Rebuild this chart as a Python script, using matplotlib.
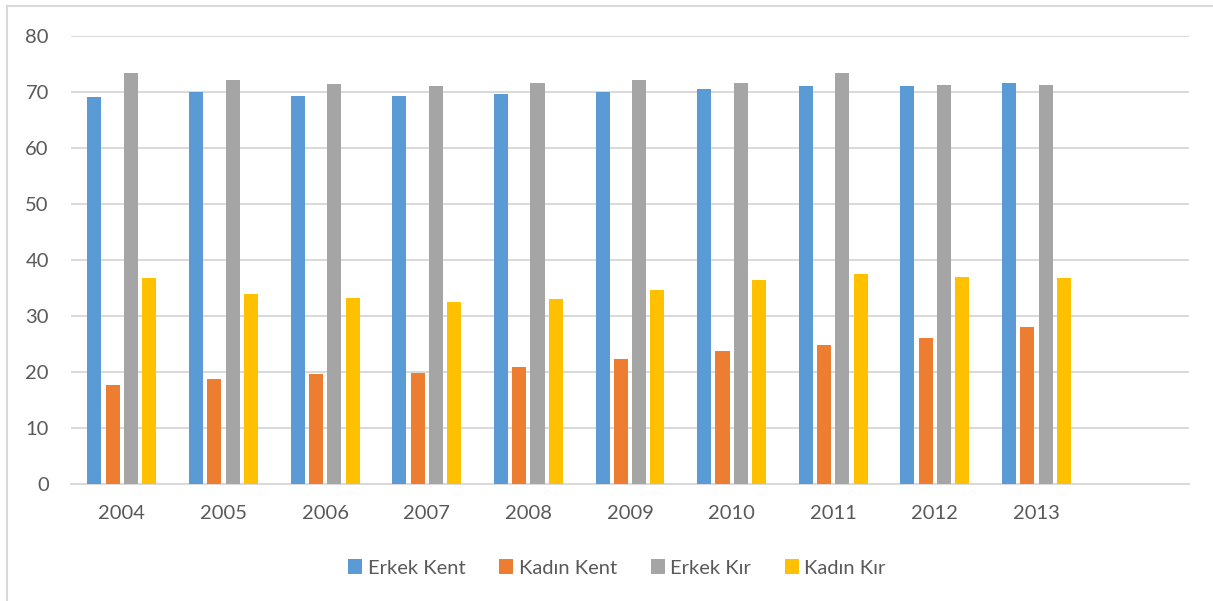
"""Employment rates by sex and urban/rural, 2004-2013 (grouped bars)."""

import matplotlib.pyplot as plt
import numpy as np
from matplotlib.lines import Line2D

years = ["2004", "2005", "2006", "2007", "2008", "2009", "2010", "2011", "2012", "2013"]
series_names = ["Erkek Kent", "Kadın Kent", "Erkek Kır", "Kadın Kır"]
erkek_kent = [69.1, 70.0, 69.3, 69.3, 69.5, 69.9, 70.4, 71.0, 71.0, 71.6]
kadin_kent = [17.7, 18.7, 19.5, 19.8, 20.8, 22.3, 23.7, 24.8, 26.1, 28.0]
erkek_kir = [73.3, 72.0, 71.3, 71.0, 71.6, 72.0, 71.6, 73.3, 71.2, 71.2]
kadin_kir = [36.7, 33.9, 33.1, 32.5, 32.9, 34.6, 36.3, 37.4, 36.9, 36.7]
yticks = [0, 10, 20, 30, 40, 50, 60, 70, 80]

colors = ["#5b9bd5", "#ed7d31", "#a5a5a5", "#ffc000"]
text_col = "#595959"
grid_col = "#d9d9d9"

plt.rcParams["font.family"] = ["Lato", "DejaVu Sans"]

W, H = 1213, 601
fig = plt.figure(figsize=(W / 100, H / 100), dpi=100)
ax = fig.add_axes([71 / W, 1 - 483.7 / H, (1189 - 71) / W, (483.7 - 35.7) / H])

x = np.arange(len(years))
width = 0.138
step = 0.18
for i, (name, vals) in enumerate(zip(series_names, [erkek_kent, kadin_kent, erkek_kir, kadin_kir])):
    ax.bar(x + (i - 1.5) * step, vals, width, color=colors[i], label=name, zorder=3)

ax.set_xlim(-0.5, 10.5)
ax.set_ylim(0, 80)
ax.set_yticks(yticks)
ax.set_xticks(x)
ax.set_xticklabels(years)
ax.tick_params(axis="both", length=0, labelsize=14.5, labelcolor=text_col)
ax.tick_params(axis="y", pad=16)
ax.tick_params(axis="x", pad=15)
ax.grid(axis="y", color=grid_col, linewidth=1.4, zorder=0)
for s in ["top", "right", "left"]:
    ax.spines[s].set_visible(False)
ax.spines["bottom"].set_color(grid_col)
ax.spines["bottom"].set_linewidth(1.4)

fig.legend(loc="center", bbox_to_anchor=(617 / W, 1 - 568 / H), ncol=4,
           frameon=False, fontsize=14.5, labelcolor=text_col,
           handlelength=0.7, handleheight=0.7, handletextpad=0.25,
           columnspacing=1.7)

# chart frame (only top and left edges visible in the crop)
fig.add_artist(Line2D([7 / W, 7 / W], [0, 1 - 6 / H], transform=fig.transFigure,
                      color=grid_col, linewidth=1.5))
fig.add_artist(Line2D([7 / W, 1], [1 - 6 / H, 1 - 6 / H], transform=fig.transFigure,
                      color=grid_col, linewidth=1.5))

fig.savefig("out.png", dpi=100)
